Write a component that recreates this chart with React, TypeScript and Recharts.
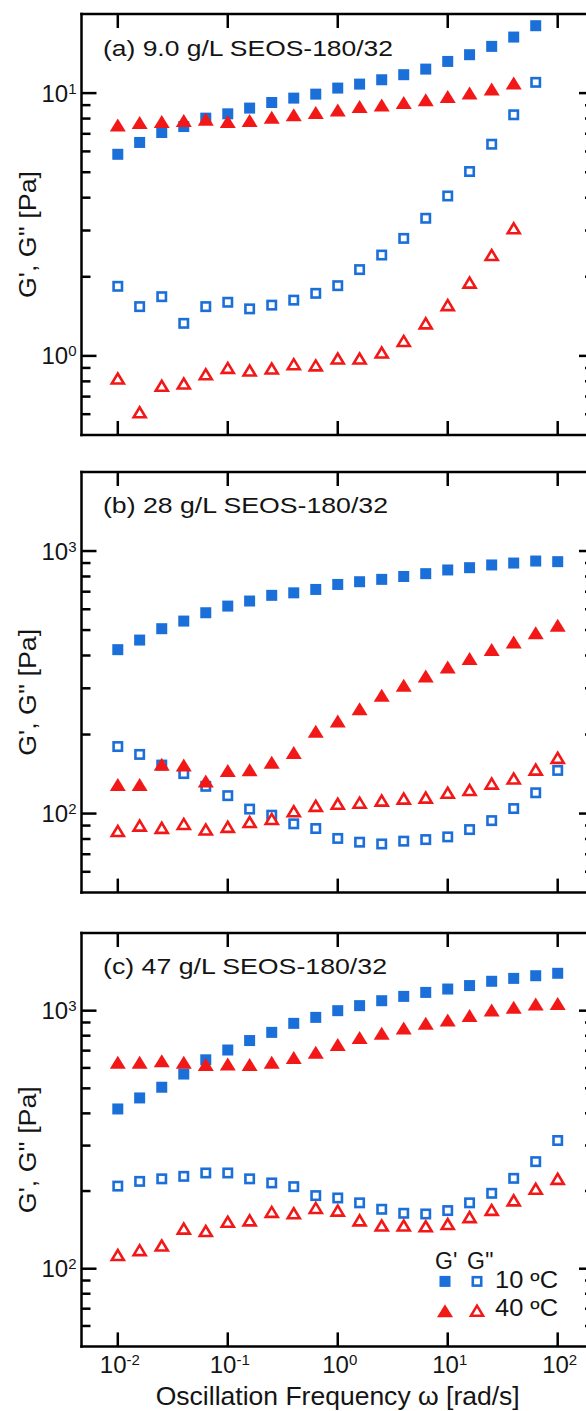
import React from 'react';
import { ScatterChart, Scatter, XAxis, YAxis, Legend } from 'recharts';

// oscillation frequency, 5 points per decade
const FREQ = [0.01, 0.0158, 0.0251, 0.0398, 0.0631, 0.1, 0.158, 0.251, 0.398, 0.631, 1, 1.58, 2.51, 3.98, 6.31, 10, 15.8, 25.1, 39.8, 63.1, 100];

// (a) 9.0 g/L
const A_G1_10 = [5.85, 6.49, 7.08, 7.46, 8.03, 8.34, 8.77, 9.21, 9.57, 9.91, 10.45, 10.82, 11.24, 11.75, 12.34, 13.2, 14.0, 15.06, 16.34, 18.05];
const A_G2_10 = [1.84, 1.54, 1.68, 1.33, 1.54, 1.6, 1.51, 1.56, 1.63, 1.73, 1.85, 2.13, 2.42, 2.8, 3.34, 4.06, 5.03, 6.39, 8.27, 10.99];
const A_G1_40 = [7.57, 7.73, 7.8, 7.87, 7.96, 7.8, 7.87, 8.1, 8.27, 8.44, 8.63, 8.89, 9.02, 9.21, 9.43, 9.71, 10.0, 10.36, 10.92];
const A_G2_40 = [0.82, 0.61, 0.77, 0.785, 0.851, 0.9, 0.88, 0.895, 0.93, 0.92, 0.977, 0.977, 1.03, 1.14, 1.33, 1.56, 1.9, 2.42, 3.06];

// (b) 28 g/L
const B_G1_10 = [421, 458, 506, 541, 582, 617, 645, 678, 693, 714, 746, 764, 780, 800, 820, 847, 864, 885, 900, 916, 911];
const B_G2_10 = [180, 168, 153, 142, 127, 117, 104, 98.6, 91.4, 87.7, 80.4, 77.8, 76.6, 78.5, 79.6, 81.5, 86.9, 94.0, 104.5, 120, 146];
const B_G1_40 = [129, 129, 154, 153, 133, 146, 147, 157, 171, 206, 225, 251, 282, 308, 334, 362, 390, 422, 450, 488, 521];
const B_G2_40 = [85.8, 90.0, 88.2, 91.3, 86.9, 89.0, 92.9, 95.4, 102, 107, 109, 110, 112, 114, 115, 120, 123, 130, 136, 147, 163];

// (c) 47 g/L
const C_G1_10 = [416, 459, 505, 568, 645, 704, 766, 824, 893, 942, 1000, 1046, 1093, 1136, 1177, 1213, 1251, 1300, 1334, 1366, 1396];
const C_G2_10 = [209, 218, 223, 228, 235, 235, 223, 215, 208, 192, 188, 180, 170, 164, 163, 168, 180, 196, 224, 260, 314];
const C_G1_40 = [631, 631, 640, 631, 618, 622, 618, 631, 659, 690, 739, 788, 817, 857, 893, 920, 957, 1006, 1031, 1062, 1067];
const C_G2_40 = [113, 118, 123, 143, 140, 152, 154, 166, 164, 172, 168, 154, 147, 147, 146, 149, 158.5, 169, 184, 204, 223];

const X_TICKS = [0.01, 0.1, 1, 10, 100];
const Y_TICKS_A = [0.6, 0.7, 0.8, 0.9, 1, 2, 3, 4, 5, 6, 7, 8, 9, 10];
const Y_TICKS_BC = [60, 70, 80, 90, 100, 200, 300, 400, 500, 600, 700, 800, 900, 1000];

const X_DOMAIN: [number, number] = [0.004677, 213.8];

const BLUE = '#1b6fd9';
const RED = '#f31818';
const INK = '#141414';
const FONT = '"Liberation Sans", Arial, Helvetica, sans-serif';

const pts = (ys: number[]) => ys.map((g, i) => ({ w: FREQ[i], g }));

const FilledSquare = ({ cx, cy }: any) => (
  <rect x={cx - 5.5} y={cy - 5.5} width={11} height={11} fill={BLUE} />
);
const OpenSquare = ({ cx, cy }: any) => (
  <rect x={cx - 4.2} y={cy - 4.2} width={8.4} height={8.4} fill="#fff" stroke={BLUE} strokeWidth={2.6} />
);
const FilledTri = ({ cx, cy }: any) => (
  <polygon points={`${cx - 8},${cy + 6.5} ${cx + 8},${cy + 6.5} ${cx},${cy - 6.5}`} fill={RED} />
);
const OpenTri = ({ cx, cy }: any) => (
  <polygon
    points={`${cx - 6},${cy + 5} ${cx + 6},${cy + 5} ${cx},${cy - 5}`}
    fill="#fff"
    stroke={RED}
    strokeWidth={2.6}
  />
);

const isDecade = (v: number) => {
  const e = Math.log10(v);
  return Math.abs(e - Math.round(e)) < 1e-6;
};

const Pow = ({ x, y, v, anchor }: any) => (
  <text x={x} y={y} textAnchor={anchor} fontSize={24} fontFamily={FONT} fill={INK}>
    10
    <tspan fontSize={15} dy={-8}>{Math.round(Math.log10(v))}</tspan>
  </text>
);

const LeftTick = ({ x, y, payload }: any) => {
  const major = isDecade(payload.value);
  return (
    <g>
      <line x1={x} y1={y} x2={x + (major ? 15 : 9)} y2={y} stroke="#000" strokeWidth={2.5} />
      {major && <Pow x={x - 5} y={y + 8.5} v={payload.value} anchor="end" />}
    </g>
  );
};

const RightTick = ({ x, y, payload }: any) => {
  const major = isDecade(payload.value);
  return <line x1={x} y1={y} x2={x - (major ? 15 : 9)} y2={y} stroke="#000" strokeWidth={2.5} />;
};

const TopTick = ({ x, y }: any) => (
  <line x1={x} y1={y} x2={x} y2={y + 14} stroke="#000" strokeWidth={2.5} />
);

const makeBottomTick = (labels: boolean) => ({ x, y, payload }: any) => (
  <g>
    <line x1={x} y1={y} x2={x} y2={y - 14} stroke="#000" strokeWidth={2.5} />
    {labels && <Pow x={x + 2} y={y + 26.5} v={payload.value} anchor="middle" />}
  </g>
);

const FRAME = { stroke: '#000', strokeWidth: 2.5, strokeLinecap: 'square' as const };

// legend box sits at (425, 310) inside panel (c)
const LegendBox = () => (
  <svg width={150} height={100}>
    <text x={10} y={39.7} fontSize={23} fontFamily={FONT} fill={INK}>G'</text>
    <text x={42} y={39.7} fontSize={23} fontFamily={FONT} fill={INK}>G''</text>
    <FilledSquare cx={20} cy={52.4} />
    <OpenSquare cx={52} cy={52.4} />
    <text x={70} y={59} fontSize={23} fontFamily={FONT} fill={INK} textLength={63} lengthAdjust="spacingAndGlyphs">10 ºC</text>
    <FilledTri cx={20} cy={81.7} />
    <OpenTri cx={52} cy={81.7} />
    <text x={70} y={87.4} fontSize={23} fontFamily={FONT} fill={INK} textLength={63} lengthAdjust="spacingAndGlyphs">40 ºC</text>
  </svg>
);

interface PanelProps {
  top: number;
  plotH: number;
  yDomain: [number, number];
  yTicks: number[];
  title: string;
  titleLen: number;
  g1c: number[];
  g2c: number[];
  g1h: number[];
  g2h: number[];
  last?: boolean;
}

const Panel = ({ top, plotH, yDomain, yTicks, title, titleLen, g1c, g2c, g1h, g2h, last }: PanelProps) => {
  const bottomH = last ? 64 : 10;
  return (
    <div style={{ position: 'absolute', left: 0, top }}>
      <ScatterChart width={640} height={14 + plotH + bottomH} margin={{ top: 0, right: 36, bottom: 0, left: 0 }}>
        <XAxis
          xAxisId="bottom"
          dataKey="w"
          type="number"
          scale="log"
          domain={X_DOMAIN}
          allowDataOverflow
          ticks={X_TICKS}
          interval={0}
          height={bottomH}
          tickSize={0}
          tickMargin={0}
          tickLine={false}
          axisLine={FRAME}
          tick={makeBottomTick(!!last)}
          label={
            last
              ? {
                  content: (p: any) => {
                    const vb = p.viewBox || { x: 81.5, y: 14 + plotH, width: 512.5 };
                    return (
                      <text
                        x={vb.x + vb.width / 2}
                        y={vb.y + 58.5}
                        textAnchor="middle"
                        fontSize={25.5}
                        fontFamily={FONT}
                        fill={INK}
                        textLength={364}
                        lengthAdjust="spacingAndGlyphs"
                      >
                        Oscillation Frequency ω [rad/s]
                      </text>
                    );
                  },
                }
              : undefined
          }
        />
        <XAxis
          xAxisId="top"
          orientation="top"
          dataKey="w"
          type="number"
          scale="log"
          domain={X_DOMAIN}
          allowDataOverflow
          ticks={X_TICKS}
          interval={0}
          height={14}
          tickSize={0}
          tickMargin={0}
          tickLine={false}
          axisLine={FRAME}
          tick={<TopTick />}
          label={{
            content: (p: any) => {
              const vb = p.viewBox || { x: 81.5, y: 0, height: 14 };
              return (
                <text
                  x={vb.x + 21.5}
                  y={vb.y + vb.height + 41.5}
                  fontSize={22}
                  fontFamily={FONT}
                  fill={INK}
                  textLength={titleLen}
                  lengthAdjust="spacingAndGlyphs"
                >
                  {title}
                </text>
              );
            },
          }}
        />
        <YAxis
          yAxisId="left"
          dataKey="g"
          type="number"
          scale="log"
          domain={yDomain}
          allowDataOverflow
          ticks={yTicks}
          interval={0}
          width={81.5}
          tickSize={0}
          tickMargin={0}
          tickLine={false}
          axisLine={FRAME}
          tick={<LeftTick />}
          label={{
            content: (p: any) => {
              const vb = p.viewBox || { x: 0, y: 14, height: plotH };
              const cy = vb.y + vb.height / 2 + 10;
              return (
                <text
                  x={36}
                  y={cy}
                  transform={`rotate(-90 36 ${cy})`}
                  textAnchor="middle"
                  fontSize={24}
                  fontFamily={FONT}
                  fill={INK}
                  textLength={127}
                  lengthAdjust="spacingAndGlyphs"
                >
                  G', G'' [Pa]
                </text>
              );
            },
          }}
        />
        <YAxis
          yAxisId="right"
          orientation="right"
          dataKey="g"
          type="number"
          scale="log"
          domain={yDomain}
          allowDataOverflow
          ticks={yTicks}
          interval={0}
          width={10}
          tickSize={0}
          tickMargin={0}
          tickLine={false}
          axisLine={FRAME}
          tick={<RightTick />}
        />
        <Scatter xAxisId="bottom" yAxisId="left" data={pts(g1c)} shape={<FilledSquare />} isAnimationActive={false} />
        <Scatter xAxisId="bottom" yAxisId="left" data={pts(g2c)} shape={<OpenSquare />} isAnimationActive={false} />
        <Scatter xAxisId="bottom" yAxisId="left" data={pts(g1h)} shape={<FilledTri />} isAnimationActive={false} />
        <Scatter xAxisId="bottom" yAxisId="left" data={pts(g2h)} shape={<OpenTri />} isAnimationActive={false} />
        {last && (
          <Legend
            verticalAlign="middle"
            align="center"
            wrapperStyle={{ position: 'absolute', left: 425, top: 310, width: 150, height: 100 }}
            content={() => <LegendBox />}
          />
        )}
      </ScatterChart>
    </div>
  );
};

export default function App() {
  return (
    <div style={{ position: 'fixed', left: 0, top: 0, width: 586, height: 1411, overflow: 'hidden', background: '#fff' }}>
      <Panel
        top={0}
        plotH={421}
        yDomain={[0.5, 20]}
        yTicks={Y_TICKS_A}
        title="(a) 9.0 g/L SEOS-180/32"
        titleLen={290}
        g1c={A_G1_10}
        g2c={A_G2_10}
        g1h={A_G1_40}
        g2h={A_G2_40}
      />
      <Panel
        top={457.7}
        plotH={420.6}
        yDomain={[50, 2000]}
        yTicks={Y_TICKS_BC}
        title="(b) 28 g/L SEOS-180/32"
        titleLen={285}
        g1c={B_G1_10}
        g2c={B_G2_10}
        g1h={B_G1_40}
        g2h={B_G2_40}
      />
      <Panel
        top={919.3}
        plotH={413.4}
        yDomain={[50, 2000]}
        yTicks={Y_TICKS_BC}
        title="(c) 47 g/L SEOS-180/32"
        titleLen={284}
        g1c={C_G1_10}
        g2c={C_G2_10}
        g1h={C_G1_40}
        g2h={C_G2_40}
        last
      />
    </div>
  );
}
